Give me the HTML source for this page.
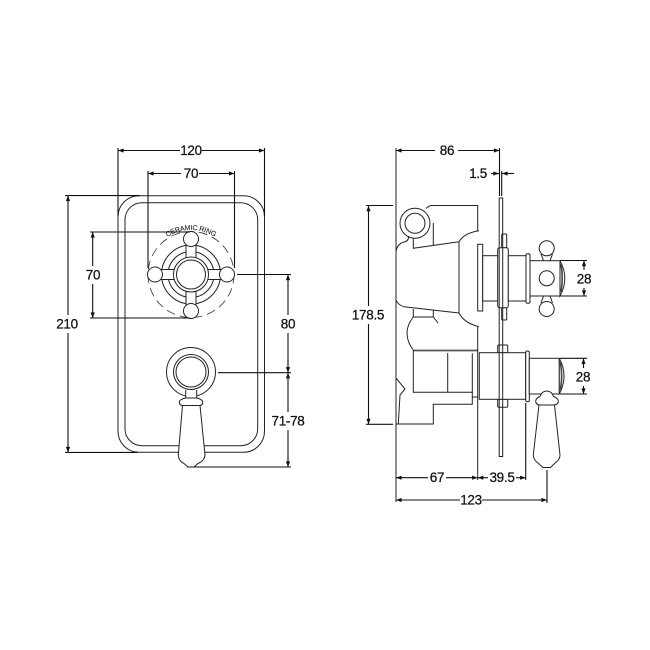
<!DOCTYPE html>
<html><head><meta charset="utf-8"><style>
html,body{margin:0;padding:0;background:#fff}
svg{display:block;filter:blur(.35px)}
text{font-family:"Liberation Sans",sans-serif;font-size:13.5px;letter-spacing:-.3px;fill:#111;stroke:#111;stroke-width:.25;text-anchor:middle;dominant-baseline:central}
.l{fill:none;stroke:#222;stroke-width:1}
.w{fill:#fff;stroke:#222;stroke-width:1}
.d{fill:none;stroke:#333;stroke-width:.9}
.b{fill:none;stroke:#111;stroke-width:1.1}
</style></head><body>
<svg width="650" height="650" viewBox="0 0 650 650" xmlns="http://www.w3.org/2000/svg">
<defs><marker id="a" viewBox="0 0 8 6" refX="8" refY="3" markerWidth="6.5" markerHeight="4.2" orient="auto-start-reverse" markerUnits="userSpaceOnUse"><path d="M0 0L8 3L0 6Z" fill="#111"/></marker></defs>
<rect width="650" height="650" fill="#fff"/>

<!-- FRONT VIEW -->
<rect class="l" x="118" y="195.7" width="146.5" height="256.6" rx="21" ry="21"/>
<rect class="l" x="125" y="202.7" width="132.7" height="243" rx="17" ry="17"/>
<circle cx="191" cy="274.5" r="43" fill="none" stroke="#333" stroke-width=".8" stroke-dasharray="9 5"/>
<circle class="l" cx="191" cy="274.5" r="29.5"/>
<circle class="l" cx="191" cy="274.5" r="23"/>
<rect class="w" x="186" y="245" width="10" height="22"/>
<rect class="w" x="186" y="282" width="10" height="23"/>
<rect class="w" x="161" y="269.5" width="22" height="10"/>
<rect class="w" x="199" y="269.5" width="22" height="10"/>
<circle class="w" cx="191" cy="274.5" r="17.5"/>
<circle class="l" cx="191" cy="274.5" r="14.5"/>
<circle class="w" cx="191" cy="239" r="7.5"/>
<circle class="w" cx="191" cy="311" r="7.5"/>
<circle class="w" cx="155" cy="274.5" r="7.5"/>
<circle class="w" cx="227" cy="274.5" r="7.5"/>
<path id="ring" d="M165 236A46 46 0 0 1 217 236" fill="none"/>
<text style="font-size:7px;letter-spacing:0;stroke-width:.1;fill:#222"><textPath href="#ring" startOffset="50%">CERAMIC RING</textPath></text>

<circle class="l" cx="191" cy="372" r="24.5"/>
<circle class="l" cx="191" cy="372" r="17.5"/>
<circle class="l" cx="191" cy="372" r="15"/>
<path class="w" d="M185.7 390V398H196.7V390"/>
<path class="w" d="M182.5 405.5L178.3 455Q178.5 461 184 463.5L188 467H194L198 463.5Q204.5 461 205 455L200 405.5Z"/>
<path class="w" d="M182.5 405.5Q179 405 179.3 402Q180 399 185.7 398H196.7Q202 399 202.7 402Q203 405 200 405.5Z"/>

<!-- front dims -->
<path class="b" d="M118 148V216M264.5 148V216M148 171V268M234.5 171V268M65 195.6H140M65 452.4H138M90 232H190M90 318H190M237 274.5H291M218 372.7H291M187 467H291"/>
<path class="b" d="M118 150.5H180" marker-start="url(#a)"/><path class="b" d="M202 150.5H264.5" marker-end="url(#a)"/>
<path class="b" d="M148 173.5H181" marker-start="url(#a)"/><path class="b" d="M199 173.5H234.5" marker-end="url(#a)"/>
<path class="b" d="M68 195.5V315" marker-start="url(#a)"/><path class="b" d="M68 333V452.5" marker-end="url(#a)"/>
<path class="b" d="M92.7 232V266" marker-start="url(#a)"/><path class="b" d="M92.7 284V318" marker-end="url(#a)"/>
<path class="b" d="M288 274.5V315" marker-start="url(#a)"/><path class="b" d="M288 333V372.7" marker-end="url(#a)"/>
<path class="b" d="M288 372.7V412" marker-start="url(#a)"/><path class="b" d="M288 430V467" marker-end="url(#a)"/>
<text x="191" y="150.5">120</text>
<text x="191" y="173.5">70</text>
<text x="93" y="275">70</text>
<text x="67" y="324">210</text>
<text x="288" y="324">80</text>
<text x="288" y="421">71-78</text>

<!-- SIDE VIEW body -->
<path class="l" d="M396 148V502"/>
<circle class="w" cx="415" cy="223.3" r="15"/>
<circle class="l" cx="415" cy="223.3" r="10"/>
<path class="l" d="M426 208.5Q429 205.5 432 205.5H477.7V230.7"/>
<path class="l" d="M396 251.7Q397 244 404 242Q409 241 408.5 236"/>
<path class="l" d="M413.3 238V248.3L459 241.7M433.3 223V245"/>
<path class="l" d="M479 230.7Q464 233 459 241.7V313Q464 323 479 326.7"/>
<path class="l" d="M396 300Q398 305 404 306.7L459 313"/>
<path class="l" d="M413.3 309V317H433.3V310M433.3 317L438 323"/>
<path class="l" d="M413.3 317Q407 325 407 333Q407 342 413.3 350"/>
<path d="M413.3 350.5H477.7" stroke="#555" stroke-width="1.8" fill="none"/>
<path class="l" d="M413.3 350V392.3H472.3V353.3M447.7 353V392.3"/>
<path class="l" d="M472.3 392.3V404.3H433.3V424H396M472.3 397H478"/>
<path class="l" d="M396 378L405 389L400 395L398.3 424"/>
<path class="l" d="M477.7 326V480"/>

<!-- upper stem -->
<rect class="w" x="477.7" y="244.3" width="5" height="66.7"/>
<rect class="w" x="482.7" y="255.7" width="15.6" height="45.3"/>
<rect class="w" x="501.7" y="234" width="5" height="13.7" rx="1"/>
<rect class="w" x="501.7" y="307.7" width="5" height="12.3" rx="1"/>
<rect class="w" x="497.7" y="247.7" width="10.6" height="60" rx="2"/>
<rect class="w" x="508.3" y="255.7" width="17.7" height="45.3"/>
<rect class="w" x="526" y="253.7" width="4" height="49.6" rx="1.5"/>
<path class="l" d="M541 254L543.5 260.7M552.5 254L550 260.7"/>
<path class="l" d="M541 303L543.5 296M552.5 303L550 296"/>
<rect class="w" x="530" y="260.7" width="30" height="35.3"/>
<path class="w" d="M560 260.7Q565 270 564.8 278.3Q565 287 560 296Z"/>
<path d="M561 264Q563.5 278 561 292" stroke="#444" stroke-width="1.6" fill="none"/>
<circle class="w" cx="546.7" cy="248.3" r="7.5"/>
<circle class="w" cx="546.7" cy="278.3" r="7.5"/>
<circle class="w" cx="546.7" cy="309" r="7.5"/>

<!-- lower stem -->
<rect class="w" x="497.7" y="345" width="10" height="7.7" rx="1"/>
<rect class="w" x="497.7" y="399.3" width="10" height="8" rx="1"/>
<rect class="w" x="479.3" y="352.7" width="46.4" height="46.6"/>
<rect class="w" x="525.7" y="351" width="3.6" height="50.7" rx="1.5"/>
<rect class="w" x="529.3" y="358.3" width="30" height="35.7"/>
<path class="w" d="M559.3 358.3Q564 367 564 376Q564 385 559.3 394Z"/>
<path d="M560.3 362Q563 376 560.3 390" stroke="#444" stroke-width="1.6" fill="none"/>

<!-- plate -->
<rect class="l" x="499.2" y="198" width="3.5" height="258.5"/>

<!-- side handle -->
<path class="w" d="M539 405L533.3 455Q533.5 460 538 463L543 467.5H550.5L555 463Q560 460 560 455L554.5 405Z"/>
<path class="w" d="M539 405Q535.5 404 535.7 401Q536 398 540 396.5Q542 391 546.7 391Q551.5 391 553.5 396.5Q558 398 558.3 401Q558.5 404 554.5 405Z"/>

<!-- side dims -->
<path class="b" d="M499.5 148V196M501.7 171V196M366 205.5H393M366 424.3H393M560 260.5H587M560 296H587M560 358.3H587M560 394H587M525.7 403V480M547 470V503"/>
<path class="b" d="M396 150.5H435" marker-start="url(#a)"/><path class="b" d="M458 150.5H499.5" marker-end="url(#a)"/>
<path class="b" d="M491 173.5H499" marker-end="url(#a)"/><path class="b" d="M514 173.5H502" marker-end="url(#a)"/>
<path class="b" d="M368.5 205.7V306" marker-start="url(#a)"/><path class="b" d="M368.5 324V424.3" marker-end="url(#a)"/>
<path class="b" d="M584 260.5V270" marker-start="url(#a)"/><path class="b" d="M584 288V296" marker-end="url(#a)"/>
<path class="b" d="M583.5 358.3V368" marker-start="url(#a)"/><path class="b" d="M583.5 386V394" marker-end="url(#a)"/>
<path class="b" d="M396 477.7H428" marker-start="url(#a)"/><path class="b" d="M446 477.7H477.7" marker-end="url(#a)"/>
<path class="b" d="M477.7 477.7H488" marker-start="url(#a)"/><path class="b" d="M516 477.7H525.7" marker-end="url(#a)"/>
<path class="b" d="M396 500H460" marker-start="url(#a)"/><path class="b" d="M482 500H547" marker-end="url(#a)"/>
<text x="447" y="150.5">86</text>
<text x="478" y="173.5">1.5</text>
<text x="368" y="315">178.5</text>
<text x="584" y="279">28</text>
<text x="583" y="377">28</text>
<text x="437" y="477.5">67</text>
<text x="502" y="477.5">39.5</text>
<text x="471" y="500">123</text>
</svg>
</body></html>
